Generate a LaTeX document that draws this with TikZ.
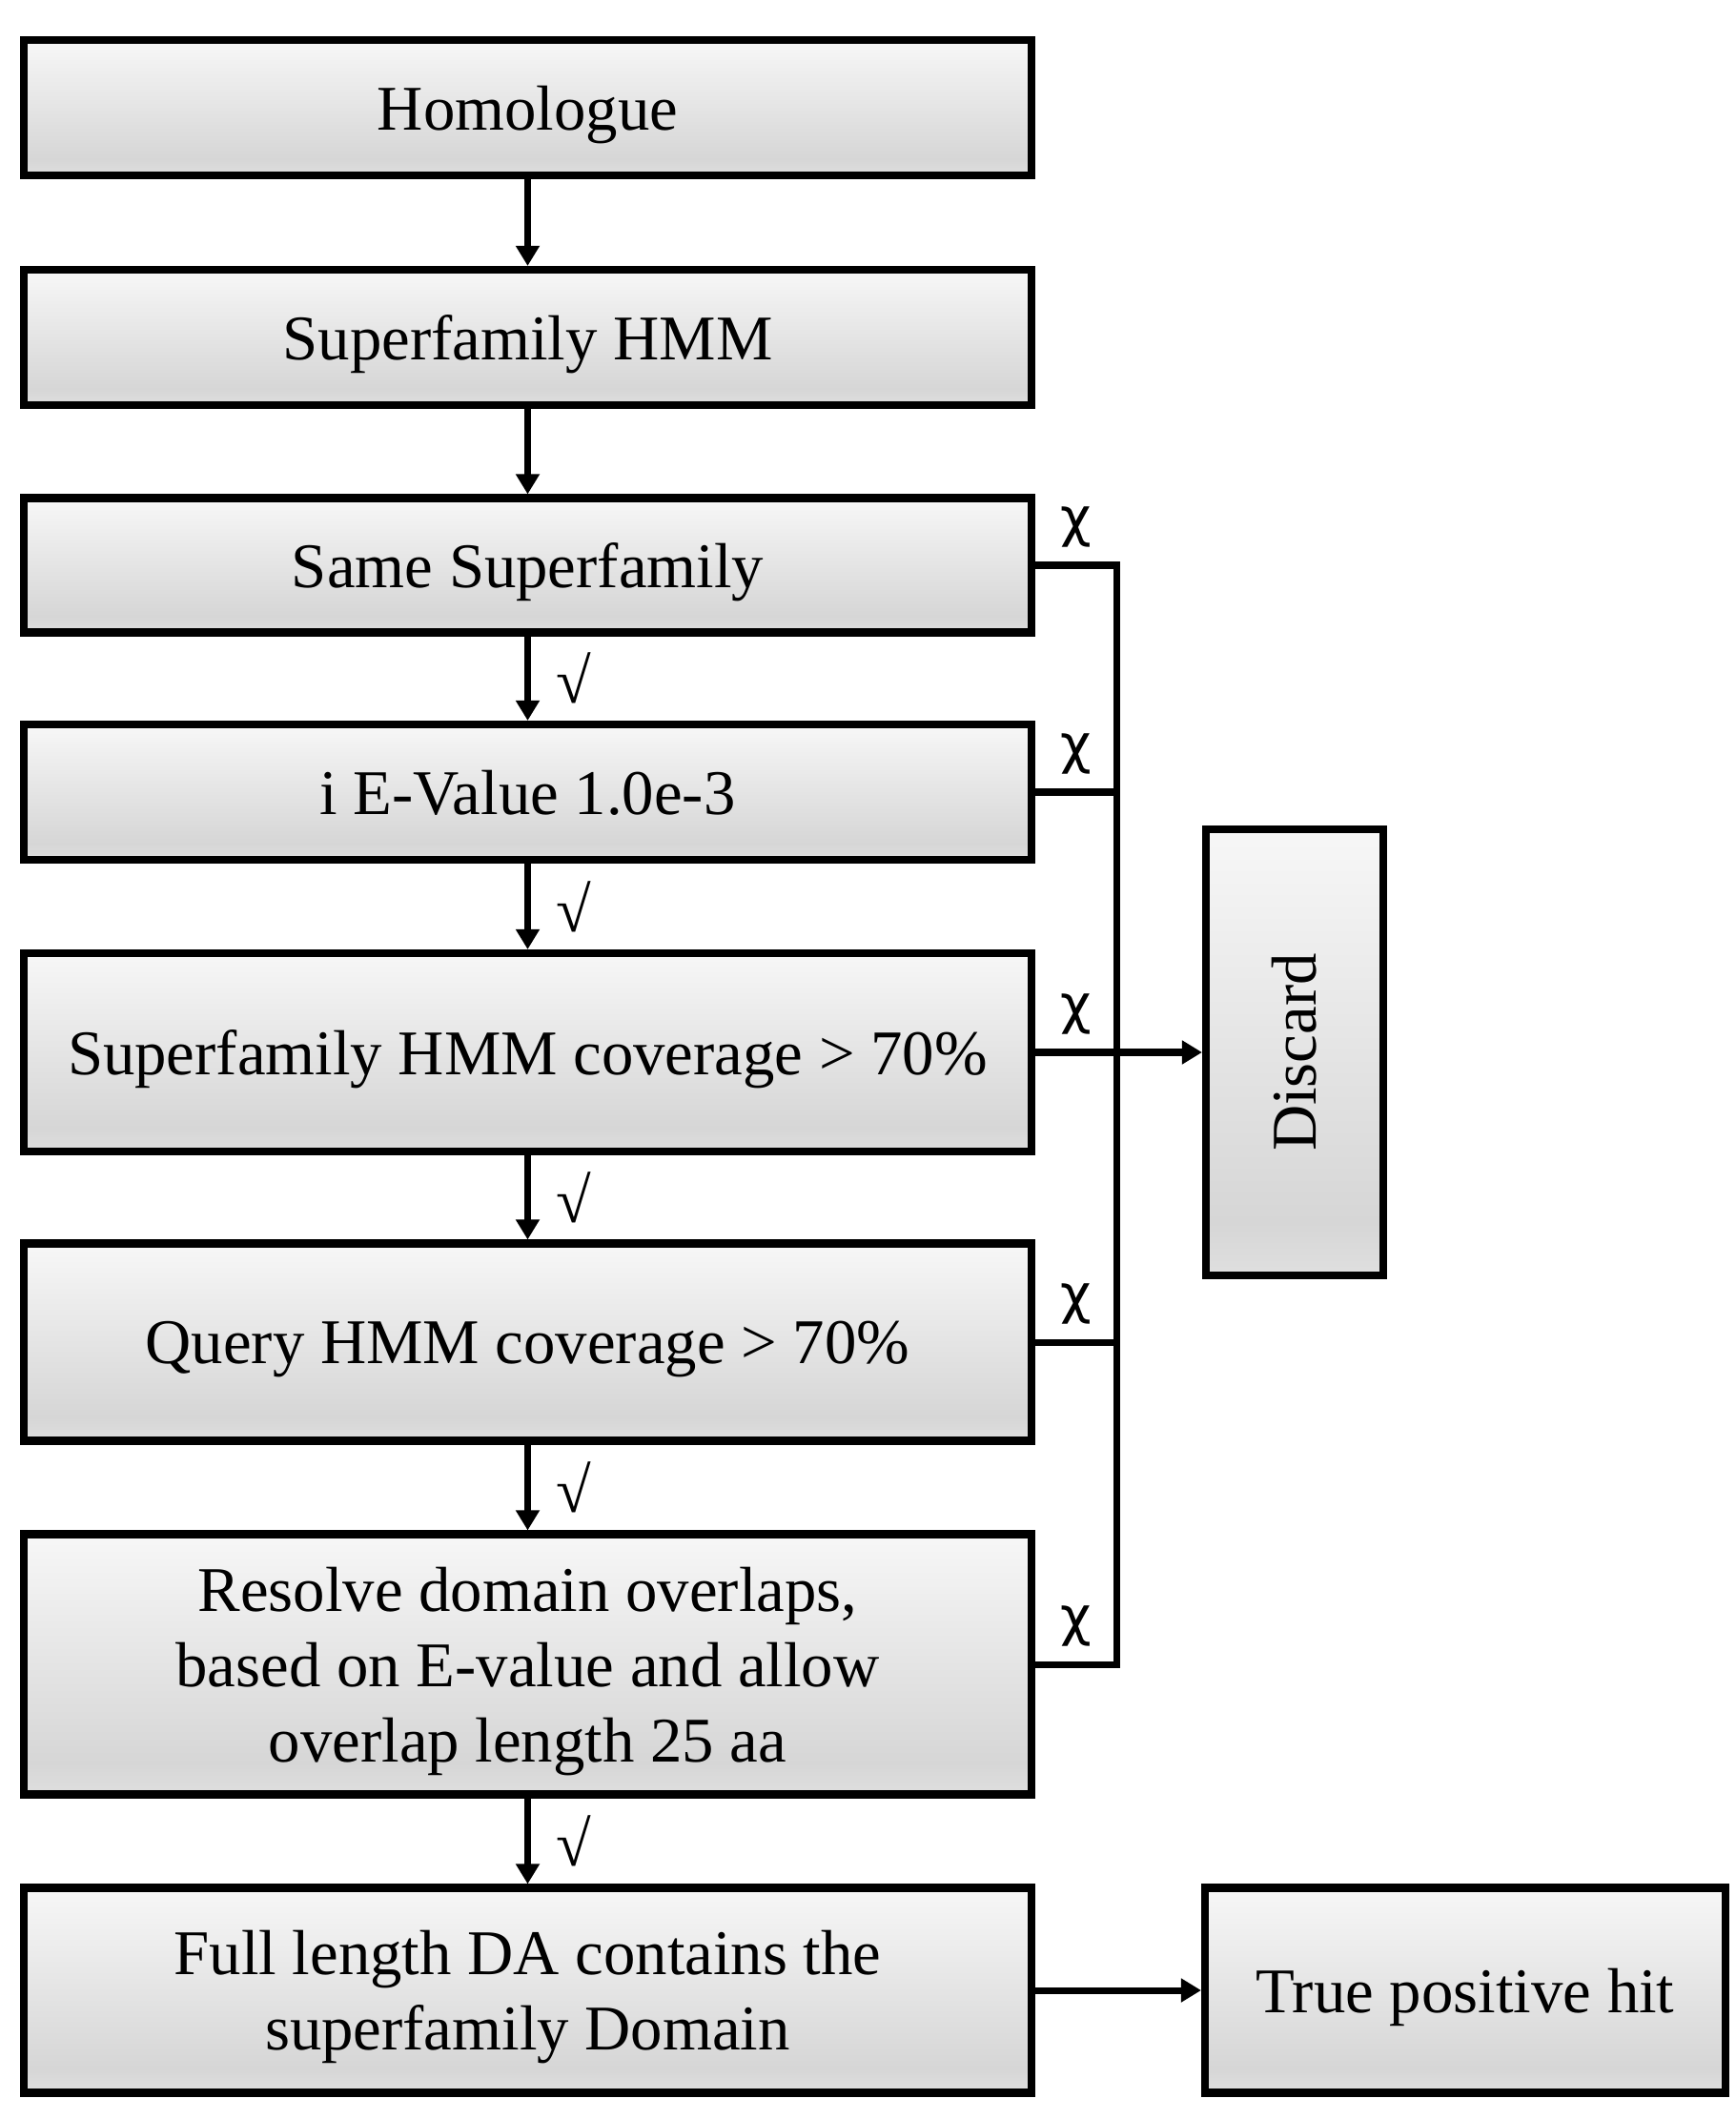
\documentclass[tikz,border=0pt]{standalone}
\usepackage{fontspec}
\setmainfont{Liberation Serif}
\newfontfamily\chifont{DejaVu Sans}
\usetikzlibrary{
    arrows.meta,
    calc,
    positioning
}

\definecolor{fadetop}{HTML}{F7F7F7}
\definecolor{fademid}{HTML}{D6D6D6}
\definecolor{fadebot}{HTML}{DFDFDF}
\pgfdeclareverticalshading{boxfade}{100bp}{color(0bp)=(fadebot); color(25bp)=(fadebot); color(31bp)=(fademid); color(75bp)=(fadetop); color(100bp)=(fadetop)}

\tikzset{
    stage/.style={draw, line width=2.3pt, shade, shading=boxfade, minimum width=10.57cm, inner sep=0pt, text depth=0pt, align=center, font=\fontsize{19}{22.5}\selectfont},
    flow/.style={-{Triangle[length=6pt,width=6.8pt]}, line width=2pt},
    bus/.style={line width=2pt},
    pass/.style={right=0.26cm, inner sep=0pt, font=\fontsize{19}{22}\selectfont},
    fail/.style={above=1pt, font=\chifont\fontsize{16}{18}\selectfont}
}

\begin{document}
\begin{tikzpicture}
                        \useasboundingbox (0, 0) rectangle (18.2, -22.23);

                        \node[stage, minimum height=1.42cm] (homo) at (5.535, -1.13) {Homologue};
                        \node[stage, minimum height=1.42cm] (sfhmm) at (5.535, -3.54) {Superfamily HMM};
                        \node[stage, minimum height=1.41cm] (same) at (5.535, -5.93) {Same Superfamily};
                        \node[stage, minimum height=1.42cm] (eval) at (5.535, -8.31) {i E-Value 1.0e-3};
                        \node[stage, minimum height=2.08cm] (sfcov) at (5.535, -11.04) {Superfamily HMM coverage > 70\%};
                        \node[stage, minimum height=2.07cm] (qcov) at (5.535, -14.08) {Query HMM coverage > 70\%};
                        \node[stage, minimum height=2.73cm] (resolve) at (5.535, -17.46) {Resolve domain overlaps,\\based on E-value and allow\\overlap length 25 aa};
                        \node[stage, minimum height=2.15cm] (fullda) at (5.535, -20.88) {Full length DA contains the\\superfamily Domain};
                        \node[stage, minimum width=1.86cm, minimum height=4.68cm] (discard) at (13.58, -11.04) {\rotatebox{90}{Discard}};
                        \node[stage, minimum width=5.46cm, minimum height=2.15cm] (truehit) at (15.37, -20.88) {True positive hit};

                        \coordinate (busx) at (11.71, 0);

                        \draw[flow] (homo.south) -- (sfhmm.north);
                        \draw[flow] (sfhmm.south) -- (same.north);
                        \draw[flow] (same.south) -- node[pass] {√} (eval.north);
                        \draw[flow] (eval.south) -- node[pass] {√} (sfcov.north);
                        \draw[flow] (sfcov.south) -- node[pass] {√} (qcov.north);
                        \draw[flow] (qcov.south) -- node[pass] {√} (resolve.north);
                        \draw[flow] (resolve.south) -- node[pass] {√} (fullda.north);

                        \draw[bus]
                        (same.east) -- node[fail] {χ} (same.east -| busx)
                        -- (resolve.east -| busx) -- node[fail] {χ} (resolve.east);
                        \draw[bus] (eval.east) -- node[fail] {χ} (eval.east -| busx);
                        \draw[bus] (sfcov.east) -- node[fail] {χ} (sfcov.east -| busx);
                        \draw[bus] (qcov.east) -- node[fail] {χ} (qcov.east -| busx);

                        \draw[flow] (sfcov.east -| busx) -- (sfcov.east -| discard.west);
                        \draw[flow] (fullda.east) -- (truehit.west);
                    \end{tikzpicture}
\end{document}
